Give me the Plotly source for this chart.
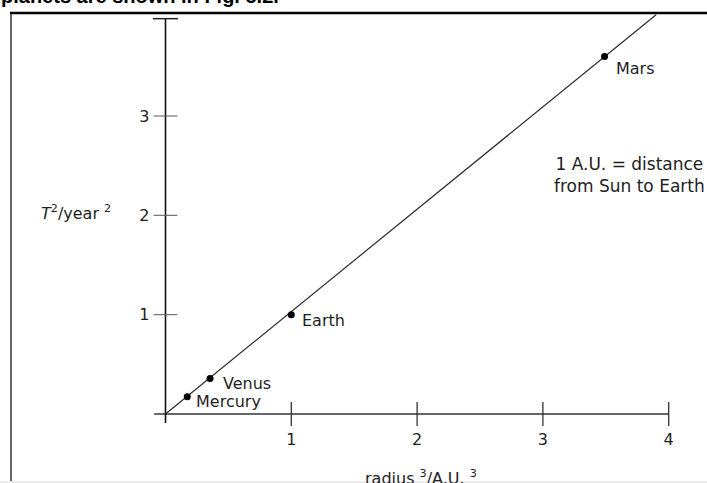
import plotly.graph_objects as go

# ---- data ----
planet_names = ["Mercury", "Venus", "Earth", "Mars"]
radius_cubed = [0.173, 0.354, 1.0, 3.49]     # radius^3 / A.U.^3
period_sq = [0.173, 0.357, 1.0, 3.60]        # T^2 / year^2
fit_x = [0.0, 3.90]
fit_y = [0.0, 4.02]
x_ticks = [1, 2, 3, 4]
x_tick_labels = ["1", "2", "3", "4"]
y_ticks = [1, 2, 3]
y_tick_labels = ["1", "2", "3"]
x_axis_extent = [-0.09, 4.0]
y_axis_extent = [-0.09, 3.98]

# ---- geometry (pixels of a 707x483 canvas) ----
W, H = 707, 483
X0_PX, X_PER = 165.5, 125.8
Y0_PX, Y_PER = 414.0, 99.33
x_range = [-X0_PX / X_PER, (W - X0_PX) / X_PER]
y_range = [-(H - Y0_PX) / Y_PER, Y0_PX / Y_PER]

def px(x):
    return x / W

def py(y):
    return 1 - y / H

FONT = "DejaVu Sans, Liberation Sans, Arial, sans-serif"
TXT = "#1e1e1e"

fig = go.Figure()

# fitted straight line
fig.add_trace(go.Scatter(x=fit_x, y=fit_y, mode="lines",
                         line=dict(color="#2a2a2a", width=1.2),
                         hoverinfo="skip", showlegend=False))

# axes lines
fig.add_trace(go.Scatter(x=x_axis_extent, y=[0, 0], mode="lines",
                         line=dict(color="#333333", width=1.5),
                         hoverinfo="skip", showlegend=False))
fig.add_trace(go.Scatter(x=[0, 0], y=y_axis_extent, mode="lines",
                         line=dict(color="#111111", width=1.6),
                         hoverinfo="skip", showlegend=False))
# cap at top of y axis
fig.add_trace(go.Scatter(x=[0], y=[y_axis_extent[1]], mode="markers",
                         marker=dict(symbol="line-ew", size=18,
                                     line=dict(color="#222222", width=1.5)),
                         hoverinfo="skip", showlegend=False))
# crossing tick marks
fig.add_trace(go.Scatter(x=x_ticks, y=[0] * len(x_ticks), mode="markers",
                         marker=dict(symbol="line-ns", size=17,
                                     line=dict(color="#333333", width=1.3)),
                         hoverinfo="skip", showlegend=False))
fig.add_trace(go.Scatter(x=[0] * len(y_ticks), y=y_ticks, mode="markers",
                         marker=dict(symbol="line-ew", size=17,
                                     line=dict(color="#666666", width=1.1)),
                         hoverinfo="skip", showlegend=False))

# planets
fig.add_trace(go.Scatter(x=radius_cubed, y=period_sq, mode="markers",
                         marker=dict(color="black", size=7),
                         hovertext=planet_names, showlegend=False))

# planet labels (offsets in pixels)
label_shift = {"Mercury": (7, -5), "Venus": (11, -5), "Earth": (9, -6), "Mars": (9, -12)}
for name, xv, yv in zip(planet_names, radius_cubed, period_sq):
    dx, dy = label_shift[name]
    fig.add_annotation(x=xv, y=yv, xref="x", yref="y", text=name, showarrow=False,
                       xanchor="left", yanchor="middle", xshift=dx, yshift=dy,
                       font=dict(family=FONT, size=16, color=TXT))

# note text
fig.add_annotation(x=px(629), y=py(175), xref="paper", yref="paper",
                   text="1 A.U. = distance<br>from Sun to Earth", showarrow=False,
                   xanchor="center", yanchor="middle", align="center",
                   font=dict(family=FONT, size=17, color=TXT))

# axis titles
fig.add_annotation(x=px(76), y=py(212), xref="paper", yref="paper",
                   text="<i>T</i><sup>2</sup>/year <sup>2</sup>", showarrow=False,
                   xanchor="center", yanchor="middle",
                   font=dict(family=FONT, size=16, color=TXT))
fig.add_annotation(x=px(421), y=py(477), xref="paper", yref="paper",
                   text="radius <sup>3</sup>/A.U. <sup>3</sup>", showarrow=False,
                   xanchor="center", yanchor="middle",
                   font=dict(family=FONT, size=16, color=TXT))

# cut-off heading above the figure frame
fig.add_annotation(x=px(-1), y=py(9), xref="paper", yref="paper",
                   text="<b>planets are shown in Fig. 5.2.</b>", showarrow=False,
                   xanchor="left", yanchor="bottom",
                   font=dict(family="Liberation Sans, Arial, sans-serif", size=20, color="black"))

# frame of the figure
fig.add_shape(type="line", xref="paper", yref="paper",
              x0=px(11), x1=px(11), y0=py(13), y1=py(H),
              line=dict(color="#333333", width=1.5))
fig.add_shape(type="line", xref="paper", yref="paper",
              x0=px(10), x1=px(W), y0=py(13), y1=py(13),
              line=dict(color="black", width=2.5))
fig.add_shape(type="rect", xref="paper", yref="paper",
              x0=0, x1=1, y0=0, y1=py(481),
              line=dict(width=0), fillcolor="#ececec", layer="above")

fig.update_layout(
    width=W, height=H,
    margin=dict(l=0, r=0, t=0, b=0, autoexpand=False),
    paper_bgcolor="white", plot_bgcolor="white",
    showlegend=False,
    xaxis=dict(range=x_range, domain=[0, 1], anchor="free", position=py(Y0_PX),
               tickvals=x_ticks, ticktext=x_tick_labels, ticks="",
               ticklabelstandoff=14, showgrid=False, zeroline=False, showline=False,
               tickfont=dict(family=FONT, size=16, color=TXT), fixedrange=True),
    yaxis=dict(range=y_range, domain=[0, 1], anchor="free", position=px(X0_PX),
               tickvals=y_ticks, ticktext=y_tick_labels, ticks="",
               ticklabelstandoff=16, showgrid=False, zeroline=False, showline=False,
               tickfont=dict(family=FONT, size=16, color=TXT), fixedrange=True),
)

fig.write_html("out.html", config={"displayModeBar": False},
               post_script="document.body.style.margin='0';document.body.style.overflow='hidden';")
